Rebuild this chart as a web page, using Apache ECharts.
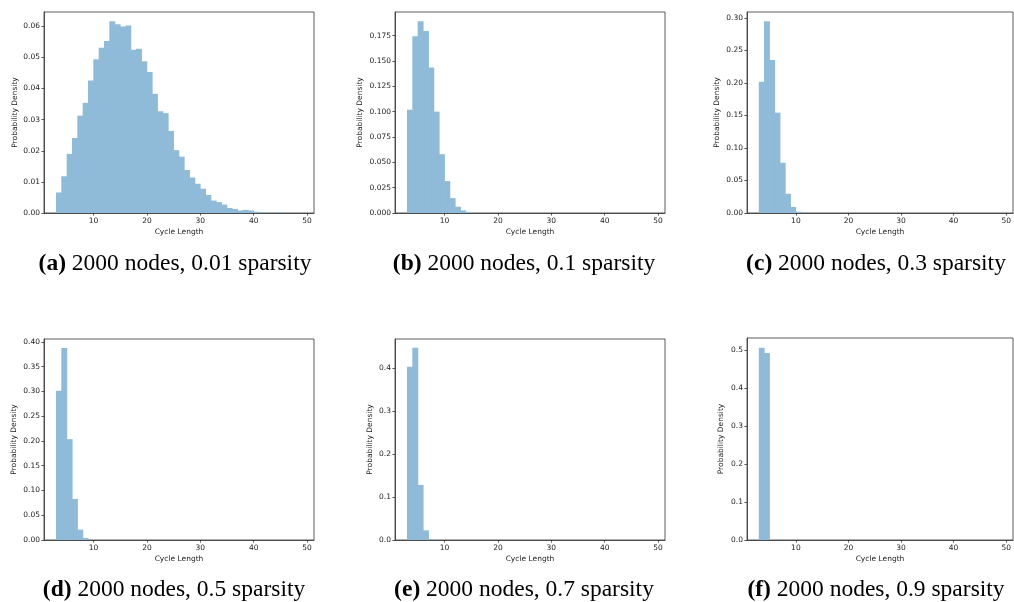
<!DOCTYPE html>
<html>
<head>
<meta charset="utf-8">
<script src="https://cdn.jsdelivr.net/npm/echarts@6/dist/echarts.min.js"></script>
<style>
    html, body { margin: 0; padding: 0; background: #fff; }
    #main { width: 1014px; height: 602px; }
</style>
</head>
<body>
<div id="main"></div>
<script>
// bin edges of the cycle length histograms (width 1)
let binEdges = [3, 4, 5, 6, 7, 8, 9, 10, 11, 12, 13, 14, 15, 16, 17, 18, 19, 20, 21, 22, 23, 24, 25, 26,
    27, 28, 29, 30, 31, 32, 33, 34, 35, 36, 37, 38, 39, 40, 41, 42, 43, 44, 45, 46, 47, 48, 49];

// probability density per bin, one array per sparsity
let density001 = [0.0066, 0.0118, 0.0190, 0.0241, 0.0313, 0.0354, 0.0426, 0.0494, 0.0531, 0.0553,
    0.0616, 0.0607, 0.0599, 0.0603, 0.0525, 0.0528, 0.0488, 0.0453, 0.0383, 0.0327, 0.0321, 0.0264,
    0.0202, 0.0181, 0.0138, 0.0114, 0.0094, 0.0078, 0.0058, 0.0040, 0.0035, 0.0027, 0.0016, 0.0013,
    0.0008, 0.0010, 0.0008, 0.0004, 0.0001, 0.0001, 0, 0.0003, 0, 0, 0, 0];
let density01 = [0.1019, 0.1744, 0.1891, 0.1796, 0.1436, 0.1000, 0.0580, 0.0315, 0.0147, 0.0062,
    0.0026, 0.0010, 0.0003, 0.0001, 0, 0, 0, 0, 0, 0, 0, 0, 0, 0, 0, 0, 0, 0, 0, 0, 0, 0, 0, 0, 0, 0,
    0, 0, 0, 0, 0, 0, 0, 0, 0, 0];
let density03 = [0.2018, 0.2948, 0.2351, 0.1543, 0.0772, 0.0296, 0.0092, 0.0020, 0.0002, 0, 0, 0,
    0, 0, 0, 0, 0, 0, 0, 0, 0, 0, 0, 0, 0, 0, 0, 0, 0, 0, 0, 0, 0, 0, 0, 0, 0, 0, 0, 0, 0, 0, 0, 0, 0, 0];
let density05 = [0.3015, 0.3879, 0.2037, 0.0830, 0.0209, 0.0040, 0.0003, 0, 0, 0, 0, 0, 0, 0, 0, 0,
    0, 0, 0, 0, 0, 0, 0, 0, 0, 0, 0, 0, 0, 0, 0, 0, 0, 0, 0, 0, 0, 0, 0, 0, 0, 0, 0, 0, 0, 0];
let density07 = [0.4031, 0.4474, 0.1282, 0.0225, 0.0023, 0, 0, 0, 0, 0, 0, 0, 0, 0, 0, 0, 0, 0, 0, 0,
    0, 0, 0, 0, 0, 0, 0, 0, 0, 0, 0, 0, 0, 0, 0, 0, 0, 0, 0, 0, 0, 0, 0, 0, 0, 0];
let density09 = [0.5070, 0.4930, 0, 0, 0, 0, 0, 0, 0, 0, 0, 0, 0, 0, 0, 0, 0, 0, 0, 0, 0, 0, 0, 0,
    0, 0, 0, 0, 0, 0, 0, 0, 0, 0, 0, 0, 0, 0, 0, 0, 0, 0, 0, 0, 0, 0];

// tick labels
let xTicks = [10, 20, 30, 40, 50];
let yTicks001 = [0, 0.01, 0.02, 0.03, 0.04, 0.05, 0.06];
let yTicks01 = [0, 0.025, 0.05, 0.075, 0.1, 0.125, 0.15, 0.175];
let yTicks03 = [0, 0.05, 0.1, 0.15, 0.2, 0.25, 0.3];
let yTicks05 = [0, 0.05, 0.1, 0.15, 0.2, 0.25, 0.3, 0.35, 0.4];
let yTicks07 = [0, 0.1, 0.2, 0.3, 0.4];
let yTicks09 = [0, 0.1, 0.2, 0.3, 0.4, 0.5];

let captions = ['(a)|2000 nodes, 0.01 sparsity', '(b)|2000 nodes, 0.1 sparsity', '(c)|2000 nodes, 0.3 sparsity',
    '(d)|2000 nodes, 0.5 sparsity', '(e)|2000 nodes, 0.7 sparsity', '(f)|2000 nodes, 0.9 sparsity'];

let panels = [
    {values: density001, ticks: yTicks001, digits: 2, yMax: 0.0646, grid: [44, 12, 270, 201], gap: 25, cap: [175, 252]},
    {values: density01, ticks: yTicks01, digits: 3, yMax: 0.1983, grid: [395, 12, 270, 201], gap: 31, cap: [524, 252]},
    {values: density03, ticks: yTicks03, digits: 2, yMax: 0.309, grid: [747, 12, 266, 201], gap: 26, cap: [876, 252]},
    {values: density05, ticks: yTicks05, digits: 2, yMax: 0.406, grid: [44, 339, 270, 201], gap: 26, cap: [174, 578]},
    {values: density07, ticks: yTicks07, digits: 1, yMax: 0.4676, grid: [395, 339, 270, 201], gap: 21, cap: [524, 578]},
    {values: density09, ticks: yTicks09, digits: 1, yMax: 0.5326, grid: [747, 338, 266, 202], gap: 22, cap: [876, 578]}
];

const barColor = '#8fbbd9';
const tickFont = 'DejaVu Sans';

let option = {
    backgroundColor: '#fff',
    animation: false,
    title: [],
    grid: [],
    xAxis: [],
    yAxis: [],
    series: []
};

panels.forEach(function (p, i) {
    option.grid.push({
        left: p.grid[0], top: p.grid[1], width: p.grid[2], height: p.grid[3],
        show: true, borderColor: '#333', borderWidth: 0.8, backgroundColor: 'transparent'
    });
    option.xAxis.push({
        type: 'value', gridIndex: i, min: 0.7, max: 51.3,
        name: 'Cycle Length', nameLocation: 'middle', nameGap: 15,
        nameTextStyle: {fontFamily: tickFont, fontSize: 7.5, color: '#222'},
        axisLine: {show: true, lineStyle: {color: '#333', width: 0.8}},
        axisTick: {show: true, length: 2.6, lineStyle: {color: '#333', width: 0.8}, customValues: xTicks},
        axisLabel: {fontFamily: tickFont, fontSize: 7.5, color: '#222', margin: 4, customValues: xTicks},
        splitLine: {show: false}
    });
    option.yAxis.push({
        type: 'value', gridIndex: i, min: 0, max: p.yMax,
        name: 'Probability Density', nameLocation: 'middle', nameRotate: 90, nameGap: p.gap,
        nameTextStyle: {fontFamily: tickFont, fontSize: 7.5, color: '#222'},
        axisLine: {show: true, lineStyle: {color: '#333', width: 0.8}},
        axisTick: {show: true, length: 2.6, lineStyle: {color: '#333', width: 0.8}, customValues: p.ticks},
        axisLabel: {
            fontFamily: tickFont, fontSize: 7.5, color: '#222', margin: 4, customValues: p.ticks,
            formatter: function (v) { return v.toFixed(p.digits); }
        },
        splitLine: {show: false}
    });
    let data = [];
    for (let k = 0; k < p.values.length; k++) {
        data.push([binEdges[k], binEdges[k + 1], p.values[k]]);
    }
    option.series.push({
        type: 'custom', xAxisIndex: i, yAxisIndex: i, data: data, z: 1,
        renderItem: function (params, api) {
            let topLeft = api.coord([api.value(0), api.value(2)]);
            let bottomRight = api.coord([api.value(1), 0]);
            // bars slightly widened so neighbours touch without a light seam
            return {
                type: 'rect',
                shape: {x: topLeft[0] - 0.3, y: topLeft[1], width: bottomRight[0] - topLeft[0] + 0.6, height: bottomRight[1] - topLeft[1]},
                style: {fill: barColor}
            };
        }
    });
    let parts = captions[i].split('|');
    option.title.push({
        text: '{b|' + parts[0] + '} {n|' + parts[1] + '}',
        left: p.cap[0], top: p.cap[1], textAlign: 'center', padding: 0,
        textStyle: {
            fontFamily: 'Liberation Serif', fontSize: 23.5, fontWeight: 'normal', color: '#000',
            rich: {
                b: {fontFamily: 'Liberation Serif', fontSize: 23.5, fontWeight: 'bold', color: '#000'},
                n: {fontFamily: 'Liberation Serif', fontSize: 23.5, fontWeight: 'normal', color: '#000'}
            }
        }
    });
});

let myChart = echarts.init(document.getElementById('main'));
myChart.setOption(option);
</script>
</body>
</html>
